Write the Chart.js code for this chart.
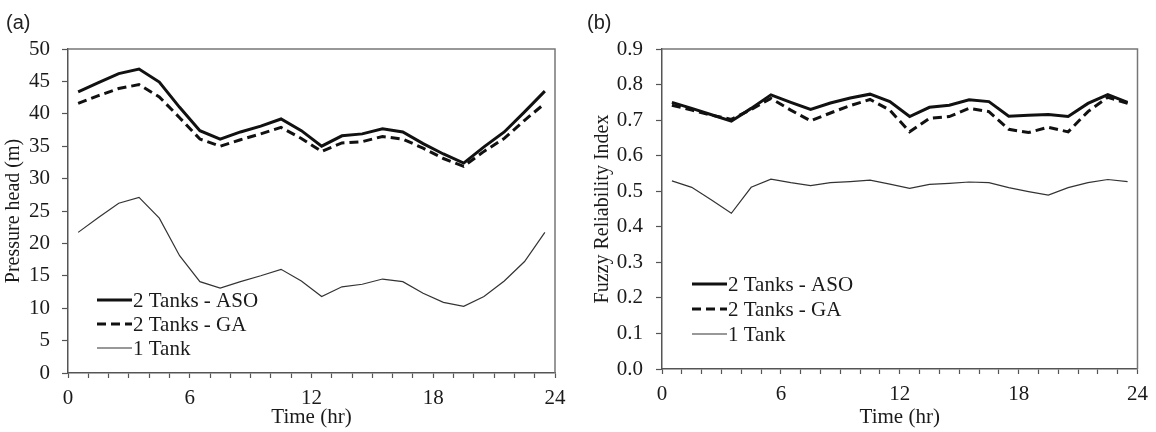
<!DOCTYPE html>
<html>
<head>
<meta charset="utf-8">
<script src="https://cdn.jsdelivr.net/npm/chart.js@4.4.1/dist/chart.umd.min.js"></script>
<style>
  html, body { margin: 0; padding: 0; background: #fff; }
  #page { position: relative; width: 1156px; height: 432px; overflow: hidden; }
  .panel { position: absolute; top: 0; width: 578px; height: 432px; }
  .tag { position: absolute; top: 11px; font: 20px "Liberation Sans", Arial, sans-serif; color: #222; }
</style>
</head>
<body>
<div id="page">
  <div class="panel" style="left:0"><canvas id="headChart"></canvas></div>
  <div class="panel" style="left:578px"><canvas id="fuzzyChart"></canvas></div>
  <div class="tag" style="left:6px">(a)</div>
  <div class="tag" style="left:587px">(b)</div>
</div>
<script>
// time of each sample (hr)
const hours = [0.5, 1.5, 2.5, 3.5, 4.5, 5.5, 6.5, 7.5, 8.5, 9.5, 10.5, 11.5,
               12.5, 13.5, 14.5, 15.5, 16.5, 17.5, 18.5, 19.5, 20.5, 21.5, 22.5, 23.5];
const seriesNames = ['2 Tanks - ASO', '2 Tanks - GA', '1 Tank'];
const timeTicks = [0, 6, 12, 18, 24];

// (a) pressure head (m)
const headASO = [43.4, 44.8, 46.2, 46.9, 44.9, 41.0, 37.4, 36.1, 37.2, 38.1, 39.2, 37.4,
                 35.0, 36.6, 36.9, 37.7, 37.2, 35.4, 33.8, 32.4, 34.9, 37.2, 40.3, 43.5];
const headGA  = [41.6, 42.8, 43.9, 44.5, 42.6, 39.4, 36.1, 35.0, 36.0, 36.9, 37.9, 36.2,
                 34.2, 35.5, 35.7, 36.5, 36.1, 34.7, 33.1, 31.9, 34.2, 36.2, 39.0, 41.6];
const headOne = [21.7, 24.0, 26.2, 27.1, 23.9, 18.1, 14.1, 13.1, 14.1, 15.0, 16.0, 14.2,
                 11.8, 13.3, 13.7, 14.5, 14.1, 12.3, 10.9, 10.3, 11.8, 14.2, 17.2, 21.7];

// (b) fuzzy reliability index
const fuzzyASO = [0.750, 0.733, 0.715, 0.697, 0.733, 0.771, 0.750, 0.730, 0.748, 0.762, 0.773, 0.752,
                  0.710, 0.736, 0.742, 0.757, 0.752, 0.711, 0.714, 0.716, 0.710, 0.747, 0.772, 0.750];
const fuzzyGA  = [0.742, 0.728, 0.714, 0.702, 0.730, 0.761, 0.728, 0.698, 0.720, 0.741, 0.758, 0.728,
                  0.667, 0.705, 0.710, 0.733, 0.724, 0.674, 0.665, 0.680, 0.667, 0.724, 0.764, 0.747];
const fuzzyOne = [0.529, 0.511, 0.475, 0.438, 0.511, 0.534, 0.524, 0.516, 0.524, 0.527, 0.531, 0.520,
                  0.508, 0.519, 0.522, 0.526, 0.524, 0.510, 0.499, 0.489, 0.510, 0.524, 0.533, 0.527];

const SERIF = '"Liberation Serif", "Times New Roman", serif';
const TEXT = '#1a1a1a';
const AXIS = '#555';

const lineStyles = [
    { borderColor: '#111', borderWidth: 3, borderDash: [] },
    { borderColor: '#111', borderWidth: 3, borderDash: [9, 5] },
    { borderColor: '#333', borderWidth: 1.2, borderDash: [] }
];

function toPoints(values) {
    return hours.map((h, i) => ({ x: h, y: values[i] }));
}

// top and right edges of the plot box
const framePlugin = {
    id: 'frame',
    afterDraw(chart) {
        const { ctx, chartArea: a } = chart;
        ctx.save();
        ctx.strokeStyle = '#777';
        ctx.lineWidth = 1.5;
        ctx.beginPath();
        ctx.moveTo(a.left, a.top);
        ctx.lineTo(a.right, a.top);
        ctx.lineTo(a.right, a.bottom);
        ctx.stroke();
        ctx.restore();
    }
};

// legend drawn inside the plot, like the original figure
const boxLegendPlugin = {
    id: 'boxLegend',
    afterDraw(chart, args, opts) {
        const { ctx } = chart;
        ctx.save();
        ctx.font = '21px ' + SERIF;
        ctx.fillStyle = TEXT;
        ctx.textBaseline = 'middle';
        chart.data.datasets.forEach((ds, i) => {
            const y = opts.y + i * opts.gap;
            ctx.strokeStyle = ds.borderColor;
            ctx.lineWidth = ds.borderWidth;
            ctx.setLineDash(ds.borderDash || []);
            ctx.beginPath();
            ctx.moveTo(opts.x, y);
            ctx.lineTo(opts.x + opts.len, y);
            ctx.stroke();
            ctx.setLineDash([]);
            ctx.fillText(ds.label, opts.x + opts.len + 1, y + 1);
        });
        ctx.restore();
    }
};

function makeChart(id, series, yOpts, box) {
    const ctx = document.getElementById(id);
    return new Chart(ctx, {
        type: 'line',
        data: {
            datasets: series.map((vals, i) => Object.assign({
                label: seriesNames[i],
                data: toPoints(vals),
                pointRadius: 0,
                tension: 0,
                fill: false
            }, lineStyles[i]))
        },
        options: {
            responsive: true,
            maintainAspectRatio: false,
            animation: false,
            layout: { padding: { top: box.top, right: box.right, left: 0, bottom: 0 } },
            plugins: {
                legend: { display: false },
                tooltip: { enabled: false },
                boxLegend: box.legend
            },
            scales: {
                x: {
                    type: 'linear',
                    min: 0,
                    max: 24,
                    afterFit: s => { s.height = box.xHeight; },
                    afterBuildTicks: s => {
                        s.ticks = hours.map(h => ({ value: h - 0.5 })).concat([{ value: 24 }]);
                    },
                    ticks: {
                        autoSkip: false,
                        maxRotation: 0,
                        padding: 8,
                        color: TEXT,
                        font: { family: SERIF, size: 21 },
                        callback: v => timeTicks.includes(v) ? String(v) : ''
                    },
                    grid: { drawOnChartArea: false, tickLength: 5, color: AXIS, tickWidth: 1.2 },
                    border: { display: true, color: AXIS, width: 1.5 },
                    title: {
                        display: true,
                        text: 'Time (hr)',
                        color: TEXT,
                        font: { family: SERIF, size: 21 },
                        padding: { top: 0, bottom: 2 }
                    }
                },
                y: Object.assign({
                    afterFit: s => { s.width = box.yWidth; },
                    ticks: {
                        padding: box.yTickPad,
                        color: TEXT,
                        font: { family: SERIF, size: 21 },
                        stepSize: yOpts.step,
                        callback: yOpts.format
                    },
                    grid: { drawOnChartArea: false, tickLength: 6, color: AXIS, tickWidth: 1.2 },
                    border: { display: true, color: AXIS, width: 1.5 },
                    title: {
                        display: true,
                        text: yOpts.title,
                        color: TEXT,
                        font: { family: SERIF, size: 20 },
                        padding: { top: box.yTitlePad, bottom: 0 }
                    }
                }, { min: yOpts.min, max: yOpts.max })
            }
        },
        plugins: [framePlugin, boxLegendPlugin]
    });
}

makeChart('headChart', [headASO, headGA, headOne],
    { title: 'Pressure head (m)', min: 0, max: 50, step: 5, format: v => String(v) },
    { top: 49, right: 23, xHeight: 59, yWidth: 68, yTitlePad: 2, yTickPad: 12,
      legend: { x: 97, y: 300, gap: 24, len: 35 } });

makeChart('fuzzyChart', [fuzzyASO, fuzzyGA, fuzzyOne],
    { title: 'Fuzzy Reliability Index', min: 0, max: 0.9, step: 0.1, format: v => v.toFixed(1) },
    { top: 49, right: 11, xHeight: 63, yWidth: 84, yTitlePad: 13, yTickPad: 13,
      legend: { x: 114, y: 284, gap: 25, len: 35 } });
</script>
</body>
</html>
